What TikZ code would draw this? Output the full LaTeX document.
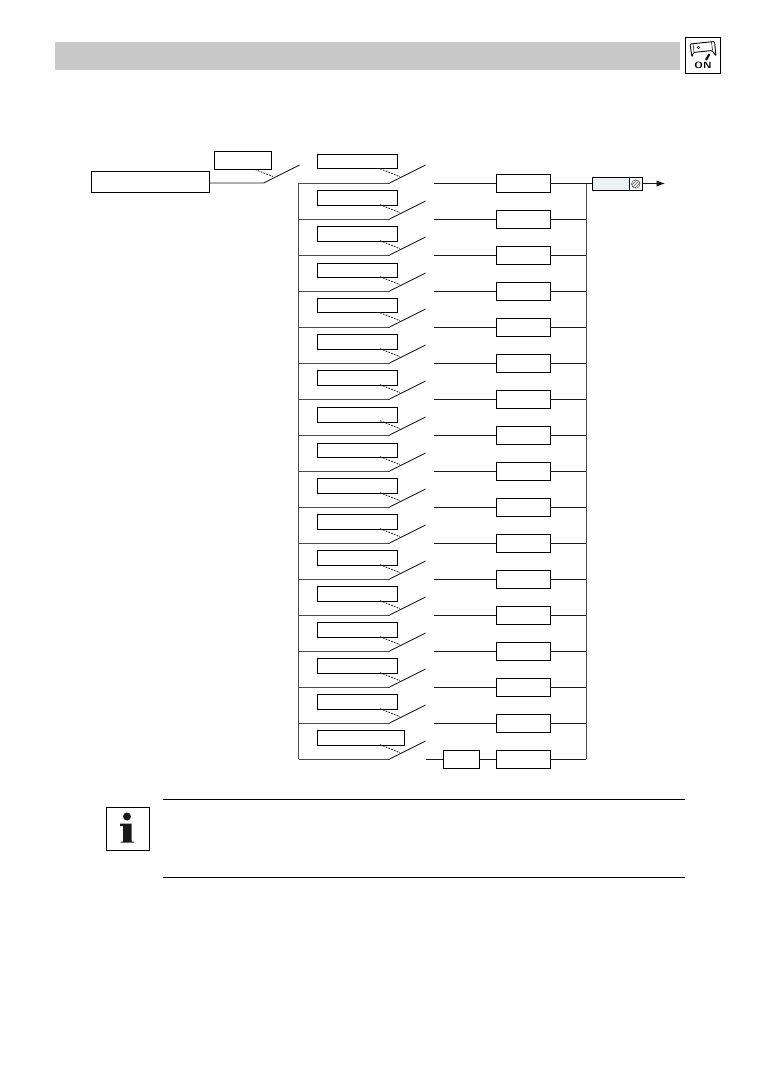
\documentclass[tikz,border=0pt]{standalone}
\usepackage{tikz}
\usetikzlibrary{arrows.meta,calc}
\definecolor{headgrey}{HTML}{C8C8C8}
\definecolor{valvefill}{HTML}{EEF2F6}
\tikzset{
	box/.style={draw=black,fill=white,line width=.9pt,inner sep=0pt,outer sep=0pt},
	wire/.style={line width=.9pt,color=black!90},
	bus/.style={line width=1pt,color=black!70},
	link/.style={line width=.8pt,dash pattern=on 1.8pt off 1.2pt,color=black!90},
}
\begin{document}
\begin{tikzpicture}[x=1pt,y=-1pt,>=latex]
	\useasboundingbox (0,0) rectangle (758,1081);

	% header bar and ON icon
	\fill[headgrey] (55,42) rectangle (680,70);
	\node[box,minimum width=35.5pt,minimum height=36pt] (onicon) at (703,55.3) {};
	\draw[line width=.9pt,rounded corners=1pt] (690,44) -- (714.5,41.5) -- (716,56) -- (712,50.5) -- (693.5,52.5) -- (692,57) -- cycle;
	\draw[line width=.5pt] (693,43.5) -- (694,52) (711.5,42) -- (712.5,50.5);
	\node[circle,draw,line width=.4pt,inner sep=.9pt] (onmark) at (698.5,47.5) {};
	\draw[line width=2pt] (706,60) -- (709.5,54);
	\node[inner sep=0pt,font=\sffamily\bfseries\fontsize{9}{9}\selectfont,xscale=1.2] (ontext) at (703,65.5) {ON};

	% inputs
	\node[box,minimum width=118pt,minimum height=21pt] (main) at (150,181.5) {};
	\node[box,minimum width=57.5pt,minimum height=18pt] (enable) at (243,160) {};
	\coordinate (pivot) at (263.5,183);
	\coordinate (contact) at (299.5,165);
	\draw[wire] (main.east |- pivot) -- (pivot) -- (contact);
	\draw[link] (255,169.5) -- (273,176.5);

	% seventeen rows
	\coordinate (bustop) at (298.8,183);
	\coordinate (busbot) at (298.8,759);
	\coordinate (sumtop) at (586,183);
	\coordinate (sumbot) at (586,759);
	\foreach \i/\ly in {0/161.5,1/198,2/234,3/270.5,4/305.5,5/342,6/378,7/415,8/450.5,9/486,10/522,11/558,12/594,13/630,14/666,15/702} {
		\pgfmathsetmacro{\ry}{183+36*\i}
		\node[box,minimum width=80.5pt,minimum height=14.5pt] (name\i) at (357.3,\ly) {};
		\node[box,minimum width=54pt,minimum height=18pt] (gain\i) at (523,\ry) {};
		\coordinate (pivot\i) at (389.5,\ry);
		\coordinate (contact\i) at (425.5,\ry-18);
		\coordinate (start\i) at (434,\ry);
		\draw[bus] (298.8,\ry) -- (pivot\i);
		\draw[wire] (pivot\i) -- (contact\i);
		\draw[link] (380,\ry-14.3) -- (400,\ry-6.3);
		\draw[wire] (start\i) -- (gain\i.west);
		\draw[wire] (gain\i.east) -- (586,\ry);
	}

	% last row has one block more
	\node[box,minimum width=87.5pt,minimum height=14.5pt] (name16) at (360.8,738) {};
	\node[box,minimum width=36.5pt,minimum height=18pt] (extra) at (461.3,759) {};
	\node[box,minimum width=54pt,minimum height=18pt] (gain16) at (523,759) {};
	\coordinate (pivot16) at (389.5,759);
	\coordinate (contact16) at (425.5,741);
	\coordinate (start16) at (426,759);
	\draw[bus] (busbot) -- (pivot16);
	\draw[wire] (pivot16) -- (contact16);
	\draw[link] (380,744.7) -- (400,752.7);
	\draw[wire] (start16) -- (extra) -- (gain16) -- (sumbot);

	\draw[bus] (bustop) -- (busbot);
	\draw[bus] (sumtop) -- (sumbot);

	% output
	\node[box,fill=valvefill,minimum width=37pt,minimum height=13.5pt] (valve) at (610.75,184) {};
	\node[box,minimum width=13pt,minimum height=13.5pt] (coil) at (635.75,184) {};
	\node[circle,draw=black!70,line width=.5pt,inner sep=0pt,minimum size=8.5pt,path picture={
		\draw[line width=.4pt] (-4,1) -- (1,-4) (-4,4) -- (4,-4) (-1,4) -- (4,-1);
	}] (coilmark) at (635.75,184) {};
	\coordinate (outend) at (665,183.5);
	\draw[wire] (sumtop) -- (sumtop -| valve.west);
	\draw[wire,-{Latex[length=8.5pt,width=6.5pt]}] (coil.east |- outend) -- (outend);

	% note
	\node[box,minimum width=43pt,minimum height=43pt] (infobox) at (127.5,828.5) {};
	\fill[black!90] (127,816.5) circle (4pt);
	\fill[black!90] (120,823.5) -- (131.5,823.5) -- (131.5,841.5) -- (134,841.5) -- (134,842.5) -- (120.5,842.5) -- (120.5,841.5) -- (123,841.5) -- (123,826) -- (120,826) -- cycle;
	\coordinate (ruleleft) at (163,799);
	\coordinate (ruleright) at (685,799);
	\coordinate (lowleft) at (163,877);
	\coordinate (lowright) at (685,877);
	\draw[line width=.9pt] (ruleleft) -- (ruleright);
	\draw[line width=.9pt] (lowleft) -- (lowright);
\end{tikzpicture}
\end{document}
